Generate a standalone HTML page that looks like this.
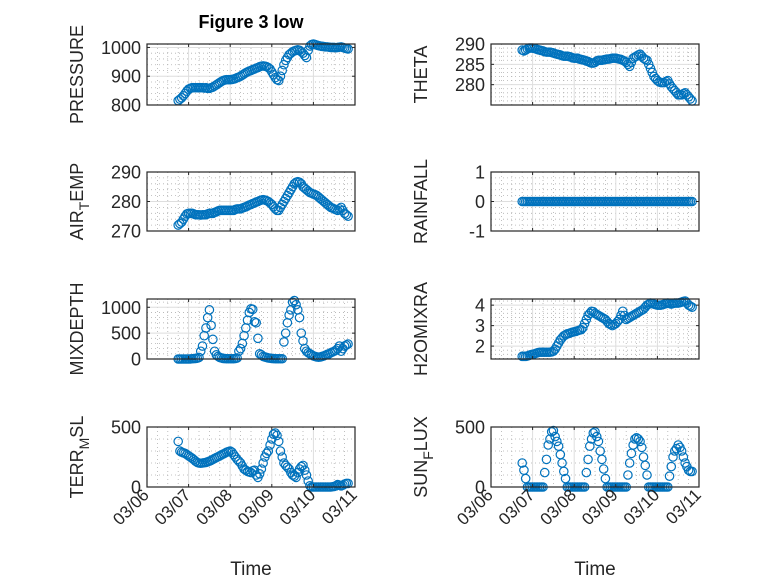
<!DOCTYPE html>
<html><head><meta charset="utf-8"><style>
html,body{margin:0;padding:0;background:#fff;}
svg{display:block;font-family:"Liberation Sans",sans-serif;}
</style></head><body>
<svg id="fig" width="778" height="583" viewBox="0 0 778 583" xmlns="http://www.w3.org/2000/svg"></svg>
<script>
// hours since 03/06 00:00
const hours = [18,19,20,21,22,23,24,25,26,27,28,29,30,31,32,33,34,35,36,37,38,39,40,41,42,43,44,45,46,47,48,49,50,51,52,53,54,55,56,57,58,59,60,61,62,63,64,65,66,67,68,69,70,71,72,73,74,75,76,77,78,79,80,81,82,83,84,85,86,87,88,89,90,91,92,93,94,95,96,97,98,99,100,101,102,103,104,105,106,107,108,109,110,111,112,113,114,115,116];
const dayTicks = ['03/06','03/07','03/08','03/09','03/10','03/11'];
const pressure = [815,820,825,832,840,848,855,858,860,860,860,860,860,860,860,859,860,858,858,860,862,866,870,874,878,882,885,887,888,888,888,889,890,892,895,897,900,904,908,912,915,918,920,923,925,928,930,933,935,936,935,933,930,925,915,905,895,888,885,900,920,940,955,965,975,980,985,988,990,992,990,985,980,972,965,990,1005,1010,1012,1010,1008,1006,1005,1004,1003,1002,1002,1001,1000,1000,1000,999,1000,1001,1002,1000,998,996,995];
const theta = [288.5,288.3,288.5,288.8,289,289,289,288.9,288.8,288.6,288.5,288.4,288.3,288.1,288,288,288,287.9,287.8,287.6,287.5,287.4,287.3,287.1,287,287,287,286.9,286.8,286.6,286.5,286.5,286.5,286.3,286.2,286.1,286,285.8,285.7,285.5,285.3,285.3,285.5,285.8,286,286,286,286.1,286.2,286.3,286.3,286.4,286.5,286.5,286.5,286.4,286.3,286.2,286,285.8,285.5,285,284.5,285.5,286.5,286.8,287,287.3,287.5,287,286.5,286.2,286,285,284,283,282,281.5,281,280.7,280.5,280.5,280.5,280.8,281,280.2,279.5,279,278.5,278,277.5,277.5,277.5,277.8,278,277.5,277,276.5,276];
const airTemp = [272,272.5,273,274,275,275.8,276,276,276,275.8,275.5,275.5,275.5,275.4,275.5,275.5,275.5,275.8,276,276,276,276.3,276.5,276.8,277,277,277,277,277,277,277,277,277,277.3,277.5,277.5,277.5,277.8,278,278.2,278.5,278.8,279,279.3,279.5,279.8,280,280.3,280.5,280.6,280.5,280.3,280,279.5,279,278.2,277.5,277,277,278,279,280,281,282,283,284,285,286,286.5,286.7,286.5,286,285,284.5,284,283.5,283,282.8,282.5,282.3,282,281.5,281,280.5,280,279.5,279,278.5,278,277.8,277.5,277.2,277,277.5,278,277,276,275.5,275];
const rainfall = [0,0,0,0,0,0,0,0,0,0,0,0,0,0,0,0,0,0,0,0,0,0,0,0,0,0,0,0,0,0,0,0,0,0,0,0,0,0,0,0,0,0,0,0,0,0,0,0,0,0,0,0,0,0,0,0,0,0,0,0,0,0,0,0,0,0,0,0,0,0,0,0,0,0,0,0,0,0,0,0,0,0,0,0,0,0,0,0,0,0,0,0,0,0,0,0,0,0,0];
const mixDepth = [0,0,0,0,0,0,0,2,5,8,10,15,30,150,250,450,600,800,950,650,380,150,80,50,30,20,10,8,5,5,5,5,5,10,20,150,200,300,450,600,750,900,970,960,720,700,400,100,80,50,40,30,20,15,10,8,5,5,5,5,5,330,500,700,850,950,1100,1130,1050,950,800,500,350,200,150,120,100,80,60,50,40,35,40,50,60,75,90,100,120,135,150,170,200,250,150,200,250,270,290];
const h2o = [1.5,1.5,1.5,1.52,1.55,1.58,1.6,1.62,1.65,1.68,1.7,1.7,1.7,1.7,1.7,1.7,1.7,1.72,1.75,1.85,2.0,2.15,2.3,2.4,2.5,2.55,2.6,2.62,2.65,2.68,2.7,2.72,2.75,2.78,2.8,2.9,3.1,3.3,3.5,3.6,3.7,3.68,3.6,3.55,3.5,3.45,3.4,3.35,3.3,3.2,3.1,3.05,3.0,3.05,3.1,3.2,3.3,3.5,3.7,3.5,3.3,3.35,3.4,3.45,3.5,3.55,3.6,3.65,3.7,3.75,3.8,3.9,4.0,4.05,4.1,4.08,4.05,4.02,4.0,4.0,4.0,4.02,4.05,4.08,4.1,4.08,4.05,4.08,4.1,4.1,4.1,4.12,4.15,4.18,4.2,4.1,4.0,3.95,3.9];
const terrMsl = [380,300,290,285,280,270,260,250,240,228,215,205,200,198,200,202,205,210,215,222,230,238,245,252,260,268,275,282,290,295,300,290,270,250,230,215,200,175,150,140,130,125,120,135,140,100,80,110,150,200,250,280,300,350,400,440,450,430,380,300,250,200,180,165,150,120,100,90,80,120,150,170,180,140,100,50,10,0,0,0,0,0,0,0,0,0,0,0,0,2,5,10,20,15,10,15,25,30,30];
const sunFlux = [200,140,70,0,0,0,0,0,0,0,0,0,0,120,230,350,400,460,470,420,380,340,270,200,130,70,0,0,0,0,0,0,0,0,0,0,0,120,230,340,400,450,460,420,380,300,230,150,70,0,0,0,0,0,0,0,0,0,0,0,0,100,200,280,350,400,410,400,380,330,250,180,100,0,0,0,0,0,0,0,0,0,0,0,0,90,170,250,300,320,350,330,300,250,200,170,140,130,130];

const svg = document.getElementById('fig');
const NS = 'http://www.w3.org/2000/svg';
function mk(tag, attrs, parent){const e=document.createElementNS(NS,tag);for(const k in attrs)e.setAttribute(k,attrs[k]);(parent||svg).appendChild(e);return e;}

const panels = [
 {name:'pressure',label:['PRESSURE'],data:pressure,x0:147,y0:44,y1:105,ymin:800,ymax:1012,ticks:[800,900,1000],minor:20},
 {name:'theta',label:['THETA'],data:theta,x0:491,y0:44,y1:105,ymin:275,ymax:290,ticks:[280,285,290],minor:1},
 {name:'air-temp',label:['AIR','T','EMP'],data:airTemp,x0:147,y0:172,y1:231,ymin:270,ymax:290,ticks:[270,280,290],minor:2},
 {name:'rainfall',label:['RAINFALL'],data:rainfall,x0:491,y0:172,y1:231,ymin:-1,ymax:1,ticks:[-1,0,1],minor:0.2},
 {name:'mixdepth',label:['MIXDEPTH'],data:mixDepth,x0:147,y0:299,y1:359,ymin:0,ymax:1160,ticks:[0,500,1000],minor:100},
 {name:'h2omixra',label:['H2OMIXRA'],data:h2o,x0:491,y0:299,y1:359,ymin:1.37,ymax:4.3,ticks:[2,3,4],minor:0.2},
 {name:'terr-msl',label:['TERR','M','SL'],data:terrMsl,x0:147,y0:427,y1:487,ymin:0,ymax:500,ticks:[0,500],minor:100,xlab:true},
 {name:'sun-flux',label:['SUN','F','LUX'],data:sunFlux,x0:491,y0:427,y1:487,ymin:0,ymax:500,ticks:[0,500],minor:100,xlab:true}
];
const W = 208;

panels.forEach(p=>{
  const g = mk('g',{});
  
  
  const xs = h => p.x0 + h/120*W;
  const ys = v => p.y1 - (v-p.ymin)/(p.ymax-p.ymin)*(p.y1-p.y0);
  mk('rect',{x:p.x0,y:p.y0,width:W,height:p.y1-p.y0,fill:'#fff'},g);
  for(let h=6;h<120;h+=6){ if(h%24===0) continue;
    mk('line',{x1:xs(h),x2:xs(h),y1:p.y0,y2:p.y1,stroke:'#b0b0b0','stroke-width':0.8,'stroke-dasharray':'1 3'},g);}
  const start = Math.ceil(p.ymin/p.minor)*p.minor;
  for(let v=start; v<p.ymax; v+=p.minor){ const vv=Math.round(v*1000)/1000; if(p.ticks.some(t=>Math.abs(t-vv)<1e-6)) continue;
    mk('line',{x1:p.x0,x2:p.x0+W,y1:ys(vv),y2:ys(vv),stroke:'#b0b0b0','stroke-width':0.8,'stroke-dasharray':'1 3'},g);}
  for(let d=1; d<5; d++) mk('line',{x1:xs(d*24),x2:xs(d*24),y1:p.y0,y2:p.y1,stroke:'#dedede','stroke-width':1},g);
  p.ticks.forEach(t=>{ mk('line',{x1:p.x0,x2:p.x0+W,y1:ys(t),y2:ys(t),stroke:'#dedede','stroke-width':1},g);});
  const sg = mk('g',{},g);
  
  
  p.data.forEach((v,i)=>{
    const c = mk('circle',{cx:xs(hours[i]),cy:ys(v),r:4.2,fill:'none',stroke:'#0072BD','stroke-width':1.2},sg);
    
    
  });
  mk('rect',{x:p.x0,y:p.y0,width:W,height:p.y1-p.y0,fill:'none',stroke:'#262626','stroke-width':1.2},g);
  for(let d=0; d<=5; d++){ const x=xs(d*24);
    mk('line',{x1:x,x2:x,y1:p.y1,y2:p.y1-3,stroke:'#262626'},g);
    mk('line',{x1:x,x2:x,y1:p.y0,y2:p.y0+3,stroke:'#262626'},g);}
  p.ticks.forEach(t=>{
    mk('line',{x1:p.x0,x2:p.x0+3,y1:ys(t),y2:ys(t),stroke:'#262626'},g);
    mk('line',{x1:p.x0+W,x2:p.x0+W-3,y1:ys(t),y2:ys(t),stroke:'#262626'},g);
    const tx = mk('text',{x:p.x0-6,y:ys(t)+6.5,'text-anchor':'end','font-size':18,fill:'#262626'},g);
    tx.textContent = String(t);
    
    
  });
  const lx = p.x0 - 64, ly = (p.y0+p.y1)/2;
  const lab = mk('text',{transform:`translate(${lx},${ly}) rotate(-90)`,'text-anchor':'middle','font-size':18,fill:'#262626'},g);
  
  
  if(p.label.length===1){ lab.textContent = p.label[0]; }
  else {
    const a=mk('tspan',{},lab); a.textContent=p.label[0];
    const b=mk('tspan',{dy:6,'font-size':14},lab); b.textContent=p.label[1];
    const c=mk('tspan',{dy:-6},lab); c.textContent=p.label[2];
  }
  if(p.xlab){
    dayTicks.forEach((s,d)=>{
      const x = xs(d*24)+3, y = p.y1+9;
      const t = mk('text',{transform:`translate(${x},${y}) rotate(-45)`,'text-anchor':'end','font-size':17,fill:'#262626'},g);
      t.textContent = s;
      
      
    });
    const xt = mk('text',{x:p.x0+W/2,y:575,'text-anchor':'middle','font-size':19,fill:'#262626'},g);
    xt.textContent = 'Time';
    
    
  }
});
const title = mk('text',{x:251,y:28,'text-anchor':'middle','font-size':18,'font-weight':'bold',fill:'#000'});
title.textContent = 'Figure 3 low';


</script>
</body></html>
